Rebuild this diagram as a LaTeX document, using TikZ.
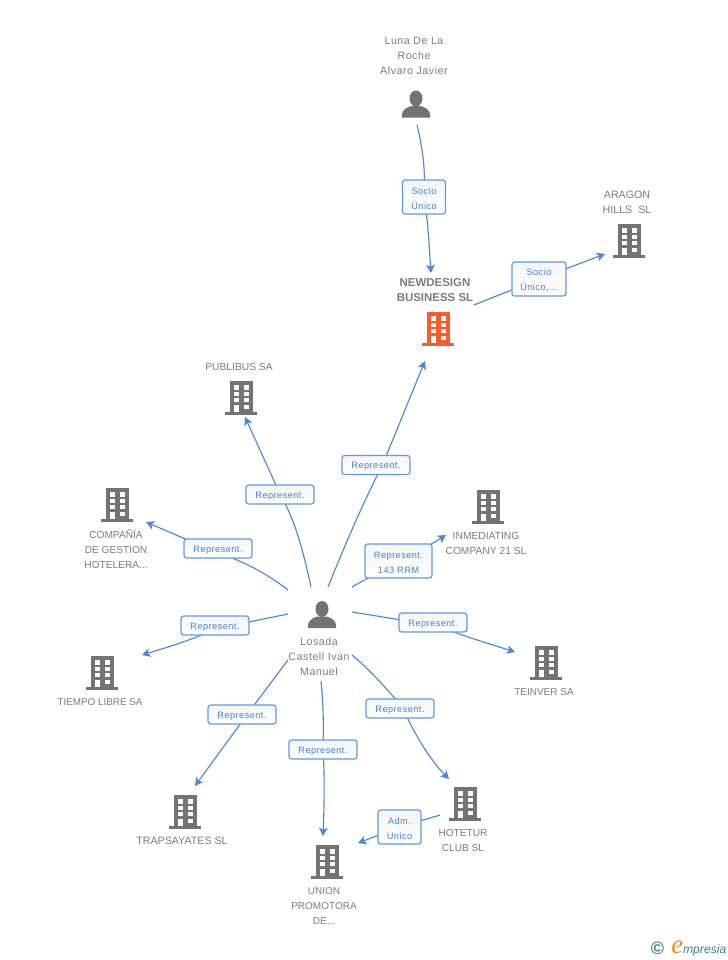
\documentclass[tikz,border=0pt]{standalone}
\usepackage{fontspec}
\setmainfont{Liberation Sans}
\newfontfamily\lblfont[LetterSpace=5]{Liberation Sans}
\newfontfamily\capfont[LetterSpace=5]{Liberation Sans}
\newfontfamily\logofont{Liberation Serif}
\usetikzlibrary{arrows.meta,calc}
\definecolor{bgray}{HTML}{737373}
\definecolor{borange}{HTML}{FF5A2C}
\definecolor{txtgray}{HTML}{7C7C7C}
\definecolor{linkblue}{HTML}{4A86E0}
\definecolor{boxblue}{HTML}{5C9AE8}
\definecolor{lbltxt}{HTML}{3F80E0}
\definecolor{logoteal}{HTML}{3F7F96}
\definecolor{logoorange}{HTML}{F08A24}
\newcommand{\lowered}[1]{\raisebox{-1.1pt}[\height][\depth]{#1}}
\tikzset{
  x=0.75pt,y=-0.75pt,
  caption/.style={font=\fontsize{#1}{11.25}\selectfont,text=txtgray,align=center,inner sep=0pt},
  widecaption/.style={font=\capfont\fontsize{8}{11.25}\selectfont,text=txtgray,align=center,inner sep=0pt},
  boldcaption/.style={font=\fontsize{8.6}{11.25}\selectfont\bfseries,text=txtgray,align=center,inner sep=0pt},
  linkbox/.style={draw=boxblue,line width=0.9pt,rounded corners=2pt,top color=black!4,bottom color=white,
    minimum height=#1*0.75pt,inner sep=0pt,align=center,text=lbltxt,font=\lblfont\fontsize{6.9}{11.25}\selectfont},
  link/.style={draw=linkblue,line width=0.85pt},
  linkarrow/.style={link,-{Stealth[length=6.2pt,width=6.6pt,inset=1.6pt]}},
  pics/building/.style={code={
    \fill[#1] (-11,-34) rectangle (12,-3);
    \fill[#1] (-16,-3) rectangle (16,0);
    \foreach \yy/\hh in {-29.7/-25.3,-23.3/-19,-17/-12.7}{
      \fill[white] (-7.3,\yy) rectangle (-2.3,\hh);
      \fill[white] (2.7,\yy) rectangle (7.7,\hh);
    }
    \fill[white] (2.7,-10.3) rectangle (7.7,-6);
    \fill[white] (-7.3,-10.3) rectangle (-2.3,-3);
  }},
  pics/person/.style={code={
    \fill[bgray] (0,-5.5) ellipse [x radius=6.5,y radius=8];
    \fill[bgray] (-14,13.5) .. controls (-14.5,6) and (-11,4.5) .. (-5,2)
      -- (5,2)
      .. controls (11,4.5) and (14.5,6) .. (14,13.5) -- cycle;
  }},
}
\begin{document}
\begin{tikzpicture}
\useasboundingbox[fill=white] (0,0) rectangle (728,960);

% icons
\pic (iconAragon) at (629,258) {building=bgray};
\pic (iconNew) at (438,346) {building=borange};
\pic (iconPub) at (241,415) {building=bgray};
\pic (iconCom) at (117,522) {building=bgray};
\pic (iconInm) at (488,524) {building=bgray};
\pic (iconTei) at (546,680) {building=bgray};
\pic (iconTie) at (102,690) {building=bgray};
\pic (iconTra) at (185,829) {building=bgray};
\pic (iconUni) at (327,879) {building=bgray};
\pic (iconHot) at (465,821) {building=bgray};
\pic (iconLuna) at (416,104) {person};
\pic (iconLos) at (322,601+13.5) {person};

% captions
\node[widecaption] (tLuna) at (414,56) {Luna De La\\Roche\\Alvaro Javier};
\node[caption=8] (tAragon) at (627,202.5) {ARAGON\\HILLS\ \ SL};
\node[boldcaption] (tNew) at (435,290.5) {NEWDESIGN\\BUSINESS SL};
\node[caption=7.7] (tPub) at (239,367) {PUBLIBUS SA};
\node[caption=7.6] (tCom) at (116,549) {COMPAÑÍA\\DE GESTION\\HOTELERA...};
\node[caption=7.7] (tInm) at (486,543.5) {INMEDIATING\\COMPANY 21 SL};
\node[caption=7.5] (tTei) at (544,692) {TEINVER SA};
\node[caption=7.4] (tTie) at (100,702) {TIEMPO LIBRE SA};
\node[caption=8] (tTra) at (182,841) {TRAPSAYATES SL};
\node[caption=7.5] (tUni) at (324,906) {UNION\\PROMOTORA\\DE...};
\node[caption=7.6] (tHot) at (463,840.5) {HOTETUR\\CLUB SL};
\node[widecaption] (tLos) at (319,657) {Losada\\Castell Ivan\\Manuel};

% connector ends
\coordinate (a1) at (417,125);  \coordinate (b1) at (431,273);
\coordinate (a2) at (474,305);  \coordinate (b2) at (605,254);
\coordinate (a3) at (328,587);  \coordinate (b3) at (425,361);
\coordinate (a4) at (311,587);  \coordinate (b4) at (245,417);
\coordinate (a5) at (288,590);  \coordinate (b5) at (146,522);
\coordinate (a6) at (288,614);  \coordinate (b6) at (142,655);
\coordinate (a7) at (352,587);  \coordinate (b7) at (446,535);
\coordinate (a8) at (352,612);  \coordinate (b8) at (515,652);
\coordinate (a9) at (288,660);  \coordinate (b9) at (195,786);
\coordinate (a10) at (321,681); \coordinate (b10) at (323,836);
\coordinate (a11) at (352,655); \coordinate (b11) at (449,779);
\coordinate (a12) at (440,815); \coordinate (b12) at (358,843);
\coordinate (c1) at (424,197);
\coordinate (c2) at (539,279);
\coordinate (c3) at (382.5,465);
\coordinate (c4) at (280,494);
\coordinate (c5) at (218,553);
\coordinate (c6) at (215,629);
\coordinate (c7) at (398,561);
\coordinate (c8) at (438,626);
\coordinate (c9) at (246,716);
\coordinate (c10) at (323,749);
\coordinate (c11) at (403,708);
\coordinate (c12) at (400,827);

% connectors
\draw[link] (a1) .. controls (422,145) and (426,170) .. (c1);
\draw[linkarrow] (c1) .. controls (428,220) and (429,245) .. (b1);
\draw[link] (a2) -- (c2);
\draw[linkarrow] (c2) -- (b2);
\draw[link] (a3) .. controls (345,545) and (362,505) .. (c3);
\draw[linkarrow] (c3) -- (b3);
\draw[link] (a4) .. controls (303,550) and (295,520) .. (c4);
\draw[linkarrow] (c4) -- (b4);
\draw[link] (a5) .. controls (265,572) and (240,560) .. (c5);
\draw[linkarrow] (c5) -- (b5);
\draw[link] (a6) -- (c6);
\draw[linkarrow] (c6) .. controls (195,639) and (165,648) .. (b6);
\draw[link] (a7) -- (c7);
\draw[linkarrow] (c7) .. controls (425,548) and (435,542) .. (b7);
\draw[link] (a8) -- (c8);
\draw[linkarrow] (c8) .. controls (460,635) and (490,644) .. (b8);
\draw[link] (a9) -- (c9);
\draw[linkarrow] (c9) -- (b9);
\draw[link] (a10) .. controls (323,700) and (324,725) .. (c10);
\draw[linkarrow] (c10) .. controls (325,780) and (324,810) .. (b10);
\draw[link] (a11) .. controls (370,670) and (388,690) .. (c11);
\draw[linkarrow] (c11) .. controls (412,730) and (430,760) .. (b11);
\draw[link] (a12) -- (c12);
\draw[linkarrow] (c12) -- (b12);

% connector labels
\node[linkbox=34,minimum width=32.25pt] (l1) at (424,197) {\lowered{Socio}\\\lowered{Único}};
\node[linkbox=34,minimum width=40.5pt] (l2) at (539,279) {\lowered{Socio}\\\lowered{Único,...}};
\node[linkbox=19,minimum width=51pt] (l3) at (376,465) {\lowered{Represent.}};
\node[linkbox=19,minimum width=51pt] (l4) at (280,494.5) {\lowered{Represent.}};
\node[linkbox=19,minimum width=51pt] (l5) at (218,548.5) {\lowered{Represent.}};
\node[linkbox=19,minimum width=51pt] (l6) at (215,625.5) {\lowered{Represent.}};
\node[linkbox=34,minimum width=50.25pt] (l7) at (398.5,561) {\lowered{Represent.}\\\lowered{143 RRM}};
\node[linkbox=19,minimum width=51pt] (l8) at (433,622.5) {\lowered{Represent.}};
\node[linkbox=19,minimum width=51pt] (l9) at (242,714.5) {\lowered{Represent.}};
\node[linkbox=19,minimum width=51pt] (l10) at (323,749.5) {\lowered{Represent.}};
\node[linkbox=19,minimum width=51pt] (l11) at (400,708.5) {\lowered{Represent.}};
\node[linkbox=34,minimum width=32.25pt] (l12) at (399.5,827) {\lowered{Adm.}\\\lowered{Unico}};

% logo
\node[inner sep=0pt,text=logoteal,font=\fontsize{13.5}{13.5}\selectfont\bfseries] (logoC) at (657.5,948) {©};
\node[inner sep=0pt,anchor=base west,font=\fontsize{9.1}{12}\itshape\selectfont,text=logoteal] (logoT) at (671,953)
  {{\color{logoorange}\logofont\itshape\fontsize{20}{20}\selectfont e}mpresia};
\end{tikzpicture}
\end{document}
